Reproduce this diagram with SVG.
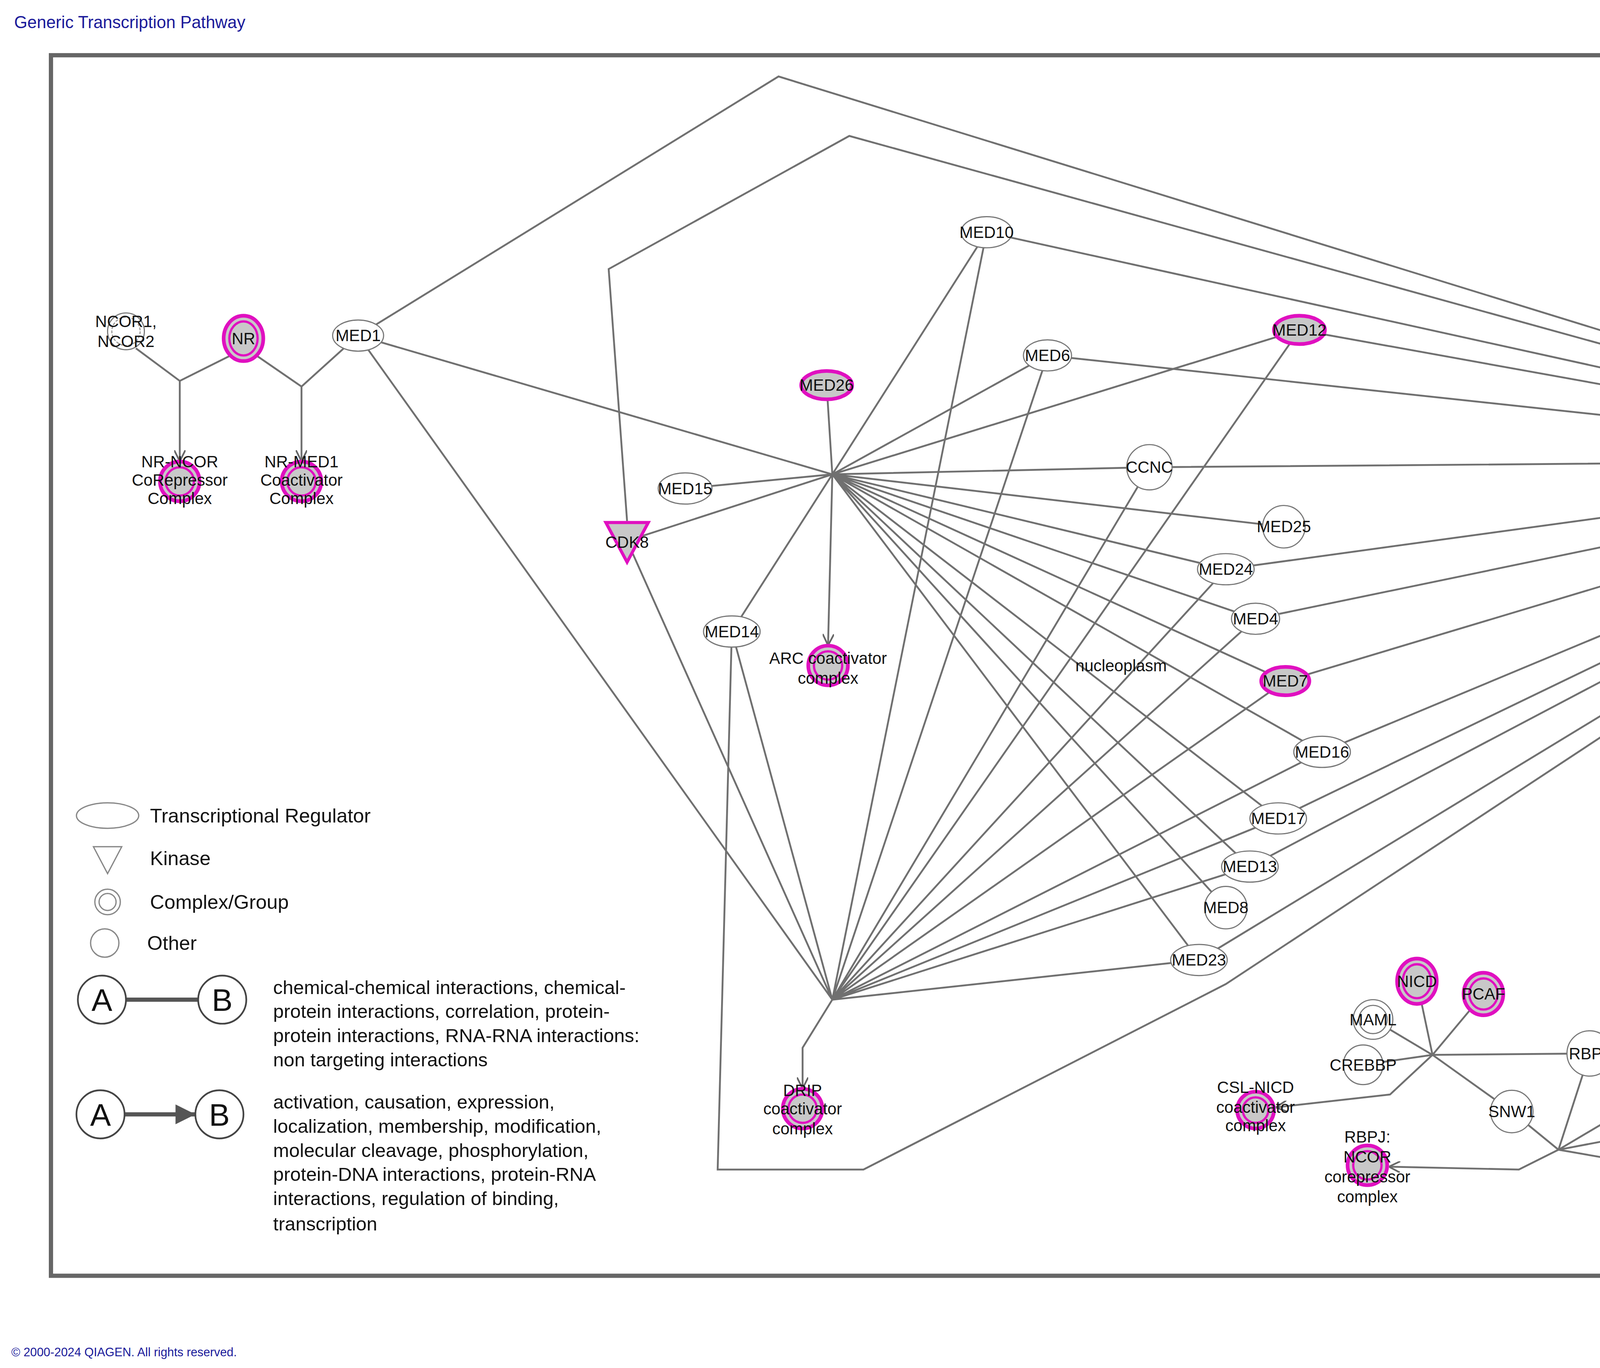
<svg xmlns="http://www.w3.org/2000/svg" width="5653" height="3501" viewBox="0 0 5653 3501">
<style>
text{font-family:"Liberation Sans",Arial,sans-serif;fill:#111}
.lbl{font-size:11.5px;text-anchor:middle}
.e{stroke:#707070;stroke-width:1.3;fill:none}
.w{fill:#fff;stroke:#777;stroke-width:0.8}
.g{fill:#c8c8c8;stroke:#e010c0;stroke-width:2.6}
.gi{fill:none;stroke:#e010c0;stroke-width:1.6}
.dash{fill:none;stroke:#999;stroke-width:0.8;stroke-dasharray:2 1}
.leg{font-size:14px}
.legt{font-size:13.5px}
</style>
<defs>
<marker id="arr" viewBox="0 0 10 10" refX="9" refY="5" markerWidth="8" markerHeight="8" markerUnits="userSpaceOnUse" orient="auto">
<path d="M0,0 L10,5 L0,10" fill="none" stroke="#666" stroke-width="1.5"/>
</marker>
<marker id="arrf" viewBox="0 0 10 10" refX="10" refY="5" markerWidth="14" markerHeight="14" markerUnits="userSpaceOnUse" orient="auto">
<path d="M0,0 L10,5 L0,10 Z" fill="#555"/>
</marker>
</defs>
<rect width="5653" height="3501" fill="#fff"/>
<g transform="scale(3.6237)">
<text x="10" y="20" style="font-size:12px;fill:#1a1a9a">Generic Transcription Pathway</text>
<text x="8" y="958" style="font-size:8.5px;fill:#1a1a9a">© 2000-2024 QIAGEN. All rights reserved.</text>
<rect x="36" y="39" width="1514" height="862" fill="none" stroke="#666" stroke-width="3"/>

<g id="connectors">
<path class="e" d="M96,246 L127,269 L163,251"/>
<line class="e" x1="127" y1="269" x2="127" y2="325" marker-end="url(#arr)"/>
<path class="e" d="M181,251 L213,273 L244,245"/>
<line class="e" x1="213" y1="273" x2="213" y2="325" marker-end="url(#arr)"/>
<path class="e" d="M253,237 L550,54 L1428,325"/>
<path class="e" d="M443,368 L430,190 L600,96 L1428,325"/>
<path class="e" d="M517,446 L507,826 L610,826 L866,695 L1428,325"/>
<path class="e" d="M588,335 L253,237 M588,335 L584,272 M588,335 L484,345 M588,335 L443,382 M588,335 L517,446 M588,335 L697,164 M588,335 L740,251 M588,335 L918,233 M588,335 L812,330 M588,335 L907,372 M588,335 L866,402 M588,335 L887,437 M588,335 L908,481 M588,335 L934,531 M588,335 L903,578 M588,335 L883,612 M588,335 L866,641 M588,335 L847,678"/>
<line class="e" x1="588" y1="335" x2="585" y2="455" marker-end="url(#arr)"/>
<path class="e" d="M588,706 L253,237 M588,706 L443,382 M588,706 L517,446 M588,706 L697,164 M588,706 L740,251 M588,706 L918,233 M588,706 L812,330 M588,706 L866,402 M588,706 L887,437 M588,706 L908,481 M588,706 L934,531 M588,706 L903,578 M588,706 L883,612 M588,706 L847,678"/>
<path class="e" d="M588,706 L567,740 L567,768" marker-end="url(#arr)"/>
<path class="e" d="M1428,325 L697,164 M1428,325 L740,251 M1428,325 L918,233 M1428,325 L812,330 M1428,325 L866,402 M1428,325 L887,437 M1428,325 L908,481 M1428,325 L934,531 M1428,325 L903,578 M1428,325 L883,612 M1428,325 L847,678 M1428,325 L1364,272 M1428,325 L1420,267 M1428,325 L1464,301 M1428,325 L1480,332"/>
<path class="e" d="M1428,325 L1430,355 L1422,392" marker-end="url(#arr)"/>
<path class="e" d="M1012,745 L1001,693 M1012,745 L1048,702 M1012,745 L970,720 M1012,745 L963,752 M1012,745 L1123,744 M1012,745 L1068,785"/>
<path class="e" d="M1012,745 L982,773 L902,782" marker-end="url(#arr)"/>
<path class="e" d="M1101,812 L1068,785 M1101,812 L1123,744 M1101,812 L1172,770 M1101,812 L1175,798 M1101,812 L1176,825"/>
<path class="e" d="M1101,812 L1073,826 L982,824" marker-end="url(#arr)"/>
<path class="e" d="M1212,650 L1262,700 L1295,663"/>
<line class="e" x1="1262" y1="700" x2="1263" y2="734" marker-end="url(#arr)"/>
</g>

<g id="ncor-left"><circle class="w" cx="89" cy="234" r="13"/><circle class="dash" cx="89" cy="234" r="10"/><text class="lbl" x="89" y="231">NCOR1,</text><text class="lbl" x="89" y="245">NCOR2</text></g>
<g id="nr"><ellipse class="g" cx="172" cy="239" rx="14" ry="16"/><ellipse class="gi" cx="172" cy="239" rx="10" ry="12"/><text class="lbl" x="172" y="243">NR</text></g>
<g id="med1"><ellipse class="w" cx="253" cy="237" rx="18" ry="11"/><text class="lbl" x="253" y="241">MED1</text></g>
<g id="nr-ncor"><circle class="g" cx="127" cy="340" r="14"/><circle class="gi" cx="127" cy="340" r="10"/><text class="lbl" x="127" y="330">NR-NCOR</text><text class="lbl" x="127" y="343">CoRepressor</text><text class="lbl" x="127" y="356">Complex</text></g>
<g id="nr-med1"><circle class="g" cx="213" cy="340" r="14"/><circle class="gi" cx="213" cy="340" r="10"/><text class="lbl" x="213" y="330">NR-MED1</text><text class="lbl" x="213" y="343">Coactivator</text><text class="lbl" x="213" y="356">Complex</text></g>

<g id="med10"><ellipse class="w" cx="697" cy="164" rx="18" ry="11"/><text class="lbl" x="697" y="168">MED10</text></g>
<g id="med6"><ellipse class="w" cx="740" cy="251" rx="17" ry="11"/><text class="lbl" x="740" y="255">MED6</text></g>
<g id="med12"><ellipse class="g" cx="918" cy="233" rx="18" ry="10"/><text class="lbl" x="918" y="237">MED12</text></g>
<g id="med26"><ellipse class="g" cx="584" cy="272" rx="18" ry="10"/><text class="lbl" x="584" y="276">MED26</text></g>
<g id="med15"><ellipse class="w" cx="484" cy="345" rx="19" ry="11"/><text class="lbl" x="484" y="349">MED15</text></g>
<g id="cdk8"><polygon points="428,369 458,369 443,397" fill="#c8c8c8" stroke="#e010c0" stroke-width="2.2"/><text class="lbl" x="443" y="387">CDK8</text></g>
<g id="med14"><ellipse class="w" cx="517" cy="446" rx="20" ry="11"/><text class="lbl" x="517" y="450">MED14</text></g>
<g id="arc"><circle class="g" cx="585" cy="470" r="14"/><circle class="gi" cx="585" cy="470" r="10"/><text class="lbl" x="585" y="469">ARC coactivator</text><text class="lbl" x="585" y="483">complex</text></g>
<g id="ccnc"><ellipse class="w" cx="812" cy="330" rx="16" ry="16"/><text class="lbl" x="812" y="334">CCNC</text></g>
<g id="med25"><circle class="w" cx="907" cy="372" r="15"/><text class="lbl" x="907" y="376">MED25</text></g>
<g id="med24"><ellipse class="w" cx="866" cy="402" rx="20" ry="11"/><text class="lbl" x="866" y="406">MED24</text></g>
<g id="med4"><ellipse class="w" cx="887" cy="437" rx="17" ry="11"/><text class="lbl" x="887" y="441">MED4</text></g>
<g id="med7"><ellipse class="g" cx="908" cy="481" rx="17" ry="10"/><text class="lbl" x="908" y="485">MED7</text></g>
<g id="med16"><ellipse class="w" cx="934" cy="531" rx="20" ry="11"/><text class="lbl" x="934" y="535">MED16</text></g>
<g id="med17"><ellipse class="w" cx="903" cy="578" rx="20" ry="11"/><text class="lbl" x="903" y="582">MED17</text></g>
<g id="med13"><ellipse class="w" cx="883" cy="612" rx="20" ry="11"/><text class="lbl" x="883" y="616">MED13</text></g>
<g id="med8"><circle class="w" cx="866" cy="641" r="15"/><text class="lbl" x="866" y="645">MED8</text></g>
<g id="med23"><ellipse class="w" cx="847" cy="678" rx="20" ry="11"/><text class="lbl" x="847" y="682">MED23</text></g>
<text class="lbl" x="792" y="474">nucleoplasm</text>
<g id="drip"><circle class="g" cx="567" cy="783" r="14"/><circle class="gi" cx="567" cy="783" r="10"/><text class="lbl" x="567" y="774">DRIP</text><text class="lbl" x="567" y="787">coactivator</text><text class="lbl" x="567" y="801">complex</text></g>

<g id="med27"><ellipse class="g" cx="1364" cy="272" rx="19" ry="10"/><text class="lbl" x="1364" y="276">MED27</text></g>
<g id="med30"><ellipse class="w" cx="1420" cy="267" rx="18" ry="11"/><text class="lbl" x="1420" y="271">MED30</text></g>
<g id="med20"><ellipse class="w" cx="1464" cy="301" rx="18" ry="11"/><text class="lbl" x="1464" y="305">MED20</text></g>
<g id="med31"><ellipse class="g" cx="1480" cy="332" rx="19" ry="10"/><text class="lbl" x="1480" y="336">MED31</text></g>
<g id="trap"><circle class="g" cx="1421" cy="408" r="14"/><circle class="gi" cx="1421" cy="408" r="10"/><text class="lbl" x="1421" y="399">TRAP</text><text class="lbl" x="1421" y="412">coactivator</text><text class="lbl" x="1421" y="425">complex</text></g>

<g id="nicd"><ellipse class="g" cx="1001" cy="693" rx="14" ry="16"/><ellipse class="gi" cx="1001" cy="693" rx="10" ry="12"/><text class="lbl" x="1001" y="697">NICD</text></g>
<g id="pcaf"><ellipse class="g" cx="1048" cy="702" rx="14" ry="15"/><ellipse class="gi" cx="1048" cy="702" rx="10" ry="11"/><text class="lbl" x="1048" y="706">PCAF</text></g>
<g id="maml"><circle class="w" cx="970" cy="720" r="14"/><circle fill="none" stroke="#777" stroke-width="0.8" cx="970" cy="720" r="10"/><text class="lbl" x="970" y="724">MAML</text></g>
<g id="crebbp"><circle class="w" cx="963" cy="752" r="14"/><text class="lbl" x="963" y="756">CREBBP</text></g>
<g id="rbpj"><circle class="w" cx="1123" cy="744" r="16"/><text class="lbl" x="1123" y="748">RBPJ</text></g>
<g id="snw1"><circle class="w" cx="1068" cy="785" r="15"/><text class="lbl" x="1068" y="789">SNW1</text></g>
<g id="csl-nicd"><circle class="g" cx="887" cy="784" r="13"/><circle class="gi" cx="887" cy="784" r="9"/><text class="lbl" x="887" y="772">CSL-NICD</text><text class="lbl" x="887" y="786">coactivator</text><text class="lbl" x="887" y="799">complex</text></g>
<g id="ncor-right"><circle class="w" cx="1172" cy="770" r="13"/><circle class="dash" cx="1172" cy="770" r="10"/><text class="lbl" x="1172" y="767">NCOR1,</text><text class="lbl" x="1172" y="781">NCOR2</text></g>
<g id="hdac"><ellipse class="g" cx="1175" cy="798" rx="14" ry="15"/><ellipse class="gi" cx="1175" cy="798" rx="10" ry="11"/><text class="lbl" x="1175" y="802">HDAC</text></g>
<g id="tbl1"><circle class="w" cx="1176" cy="825" r="15"/><circle fill="none" stroke="#777" stroke-width="0.8" cx="1176" cy="825" r="11"/><text class="lbl" x="1176" y="829">TBL1</text></g>
<g id="rbpj-ncor"><circle class="g" cx="966" cy="823" r="14"/><circle class="gi" cx="966" cy="823" r="10"/><text class="lbl" x="966" y="807">RBPJ:</text><text class="lbl" x="966" y="821">NCOR</text><text class="lbl" x="966" y="835">corepressor</text><text class="lbl" x="966" y="849">complex</text></g>

<g id="kap"><circle class="w" cx="1212" cy="652" r="14"/><circle class="dash" cx="1212" cy="652" r="11"/><text class="lbl" x="1212" y="636">KAP (KRAB-</text><text class="lbl" x="1212" y="650">Domain</text><text class="lbl" x="1212" y="664">Associated</text><text class="lbl" x="1212" y="678">Protein)</text></g>
<g id="krab-znf"><circle class="g" cx="1295" cy="663" r="14"/><circle class="gi" cx="1295" cy="663" r="10"/><text class="lbl" x="1295" y="667">KRAB-ZNF</text></g>
<g id="krab-kap"><circle class="g" cx="1263" cy="748" r="14"/><circle class="gi" cx="1263" cy="748" r="10"/><text class="lbl" x="1263" y="741">KRAB-</text><text class="lbl" x="1263" y="754">ZNF /</text><text class="lbl" x="1263" y="767">KAP Complex</text></g>

<g id="legend">
<ellipse cx="76" cy="576" rx="22" ry="9" fill="#fff" stroke="#888" stroke-width="0.9"/>
<text class="leg" x="106" y="581">Transcriptional Regulator</text>
<polygon points="66,598 86,598 76,617" fill="#fff" stroke="#888" stroke-width="0.9"/>
<text class="leg" x="106" y="611">Kinase</text>
<circle cx="76" cy="637" r="9" fill="#fff" stroke="#888" stroke-width="0.9"/><circle cx="76" cy="637" r="6" fill="none" stroke="#888" stroke-width="0.9"/>
<text class="leg" x="106" y="642">Complex/Group</text>
<circle cx="74" cy="666" r="10" fill="#fff" stroke="#888" stroke-width="0.9"/>
<text class="leg" x="104" y="671">Other</text>
<line x1="89" y1="706" x2="140" y2="706" stroke="#555" stroke-width="3"/>
<circle cx="72" cy="706" r="17" fill="#fff" stroke="#444" stroke-width="1.2"/><text x="72" y="714" style="font-size:22px;text-anchor:middle">A</text>
<circle cx="157" cy="706" r="17" fill="#fff" stroke="#444" stroke-width="1.2"/><text x="157" y="714" style="font-size:22px;text-anchor:middle">B</text>
<text class="legt" x="193" y="702">chemical-chemical interactions, chemical-</text>
<text class="legt" x="193" y="719">protein interactions, correlation, protein-</text>
<text class="legt" x="193" y="736">protein interactions, RNA-RNA interactions:</text>
<text class="legt" x="193" y="753">non targeting interactions</text>
<line x1="88" y1="787" x2="138" y2="787" stroke="#555" stroke-width="3" marker-end="url(#arrf)"/>
<circle cx="71" cy="787" r="17" fill="#fff" stroke="#444" stroke-width="1.2"/><text x="71" y="795" style="font-size:22px;text-anchor:middle">A</text>
<circle cx="155" cy="787" r="17" fill="#fff" stroke="#444" stroke-width="1.2"/><text x="155" y="795" style="font-size:22px;text-anchor:middle">B</text>
<text class="legt" x="193" y="783">activation, causation, expression,</text>
<text class="legt" x="193" y="800">localization, membership, modification,</text>
<text class="legt" x="193" y="817">molecular cleavage, phosphorylation,</text>
<text class="legt" x="193" y="834">protein-DNA interactions, protein-RNA</text>
<text class="legt" x="193" y="851">interactions, regulation of binding,</text>
<text class="legt" x="193" y="869">transcription</text>
</g>
</g>
</svg>
